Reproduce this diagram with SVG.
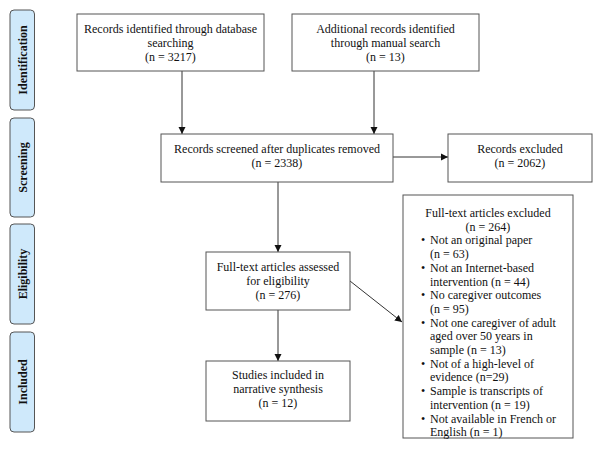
<svg xmlns="http://www.w3.org/2000/svg" width="596" height="456" viewBox="0 0 596 456">
<defs>
<marker id="ah" markerWidth="8" markerHeight="8" refX="7" refY="4" orient="auto" markerUnits="userSpaceOnUse">
<path d="M0,0.5 L7,4 L0,7.5 Z" fill="#111"/>
</marker>
<style>
.box{fill:#fff;stroke:#555;stroke-width:1}
.side{fill:#cfe9fb;stroke:#555;stroke-width:1}
text{font-family:"Liberation Serif","Times New Roman",serif;fill:#111}
.t{font-size:12px;text-anchor:middle}
.tl{font-size:12px}
.s{font-size:12px;font-weight:bold;text-anchor:middle}
.c{stroke:#333;stroke-width:1;fill:none;marker-end:url(#ah)}
</style>
</defs>
<rect width="596" height="456" fill="#fff"/>
<g id="side-identification"><rect class="side" x="10" y="10" width="24.5" height="100" rx="4"/><text class="s" transform="translate(26.5,60) rotate(-90)">Identification</text></g>
<g id="side-screening"><rect class="side" x="10" y="118" width="24.5" height="99" rx="4"/><text class="s" transform="translate(26.5,167.5) rotate(-90)">Screening</text></g>
<g id="side-eligibility"><rect class="side" x="10" y="224" width="24.5" height="100" rx="4"/><text class="s" transform="translate(26.5,274) rotate(-90)">Eligibility</text></g>
<g id="side-included"><rect class="side" x="10" y="332" width="24.5" height="100" rx="4"/><text class="s" transform="translate(26.5,382) rotate(-90)">Included</text></g>

<g id="connectors">
<line class="c" x1="182" y1="71" x2="182" y2="134"/>
<line class="c" x1="374" y1="71" x2="374" y2="134"/>
<line class="c" x1="393" y1="157" x2="448" y2="157"/>
<line class="c" x1="278" y1="182" x2="278" y2="252"/>
<line class="c" x1="278" y1="310" x2="278" y2="361"/>
<line class="c" x1="350" y1="281" x2="402" y2="322"/>
</g>

<g id="n-database"><rect class="box" x="77" y="14" width="187" height="57"/>
<text class="t" x="170.5" y="33">Records identified through database</text>
<text class="t" x="170.5" y="47">searching</text>
<text class="t" x="170.5" y="61">(n = 3217)</text></g>

<g id="n-manual"><rect class="box" x="292" y="14" width="187" height="57"/>
<text class="t" x="385.5" y="33">Additional records identified</text>
<text class="t" x="385.5" y="47">through manual search</text>
<text class="t" x="385.5" y="61">(n = 13)</text></g>

<g id="n-screened"><rect class="box" x="161" y="134" width="232" height="48"/>
<text class="t" x="277" y="153">Records screened after duplicates removed</text>
<text class="t" x="277" y="167">(n = 2338)</text></g>

<g id="n-excluded"><rect class="box" x="448" y="134" width="144" height="48"/>
<text class="t" x="520" y="153">Records excluded</text>
<text class="t" x="520" y="167">(n = 2062)</text></g>

<g id="n-eligibility"><rect class="box" x="206" y="252" width="144" height="58"/>
<text class="t" x="278" y="271">Full-text articles assessed</text>
<text class="t" x="278" y="285">for eligibility</text>
<text class="t" x="278" y="299">(n = 276)</text></g>

<g id="n-included"><rect class="box" x="206" y="361" width="144" height="60"/>
<text class="t" x="278" y="379">Studies included in</text>
<text class="t" x="278" y="393">narrative synthesis</text>
<text class="t" x="278" y="407">(n = 12)</text></g>

<g id="n-fulltext-excluded"><rect class="box" x="403" y="195" width="170" height="243"/>
<text class="t" x="488" y="217">Full-text articles excluded</text>
<text class="t" x="488" y="230.7">(n = 264)</text>
<text class="tl" x="421" y="244.4">•</text><text class="tl" x="430" y="244.4">Not an original paper</text>
<text class="tl" x="430" y="258.1">(n = 63)</text>
<text class="tl" x="421" y="271.8">•</text><text class="tl" x="430" y="271.8">Not an Internet-based</text>
<text class="tl" x="430" y="285.5">intervention (n = 44)</text>
<text class="tl" x="421" y="299.2">•</text><text class="tl" x="430" y="299.2">No caregiver outcomes</text>
<text class="tl" x="430" y="312.9">(n = 95)</text>
<text class="tl" x="421" y="326.6">•</text><text class="tl" x="430" y="326.6">Not one caregiver of adult</text>
<text class="tl" x="430" y="340.3">aged over 50 years in</text>
<text class="tl" x="430" y="354">sample (n = 13)</text>
<text class="tl" x="421" y="367.7">•</text><text class="tl" x="430" y="367.7">Not of a high-level of</text>
<text class="tl" x="430" y="381.4">evidence (n=29)</text>
<text class="tl" x="421" y="395.1">•</text><text class="tl" x="430" y="395.1">Sample is transcripts of</text>
<text class="tl" x="430" y="408.8">intervention (n = 19)</text>
<text class="tl" x="421" y="422.5">•</text><text class="tl" x="430" y="422.5">Not available in French or</text>
<text class="tl" x="430" y="436.2">English (n = 1)</text>
</g>
</svg>
